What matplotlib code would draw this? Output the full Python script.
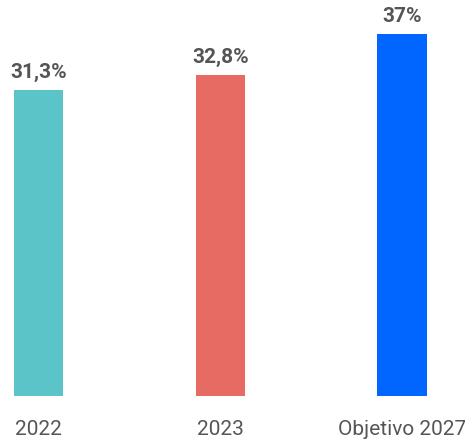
import matplotlib
matplotlib.use("Agg")
import matplotlib.pyplot as plt

plt.rcParams["font.family"] = ["Roboto", "DejaVu Sans"]

categories = ["2022", "2023", "Objetivo 2027"]
values = [31.3, 32.8, 37]
value_labels = ["31,3%", "32,8%", "37%"]
colors = ["#5BC4C8", "#E86B63", "#0066FF"]

fig = plt.figure(figsize=(4.65, 4.41), dpi=100)
ax = fig.add_axes([0, 0.102, 1, 0.898])

x = range(len(categories))
ax.bar(x, values, width=0.272, color=colors)

for xi, v, lab in zip(x, values, value_labels):
    ax.text(xi, v + 0.8, lab, ha="center", va="bottom",
            fontsize=15, fontweight="bold", color="#555555")

ax.set_xlim(-0.212, 2.347)
ax.set_ylim(0, 40.5)
ax.set_xticks(list(x))
ax.set_xticklabels(categories, fontsize=15, color="#555555")
ax.tick_params(axis="x", length=0, pad=17)
ax.set_yticks([])
for s in ax.spines.values():
    s.set_visible(False)

# last label sits a bit left of its bar in the reference
ax.get_xticklabels()[-1].set_x(1.965)

fig.savefig("out.png", dpi=100)
